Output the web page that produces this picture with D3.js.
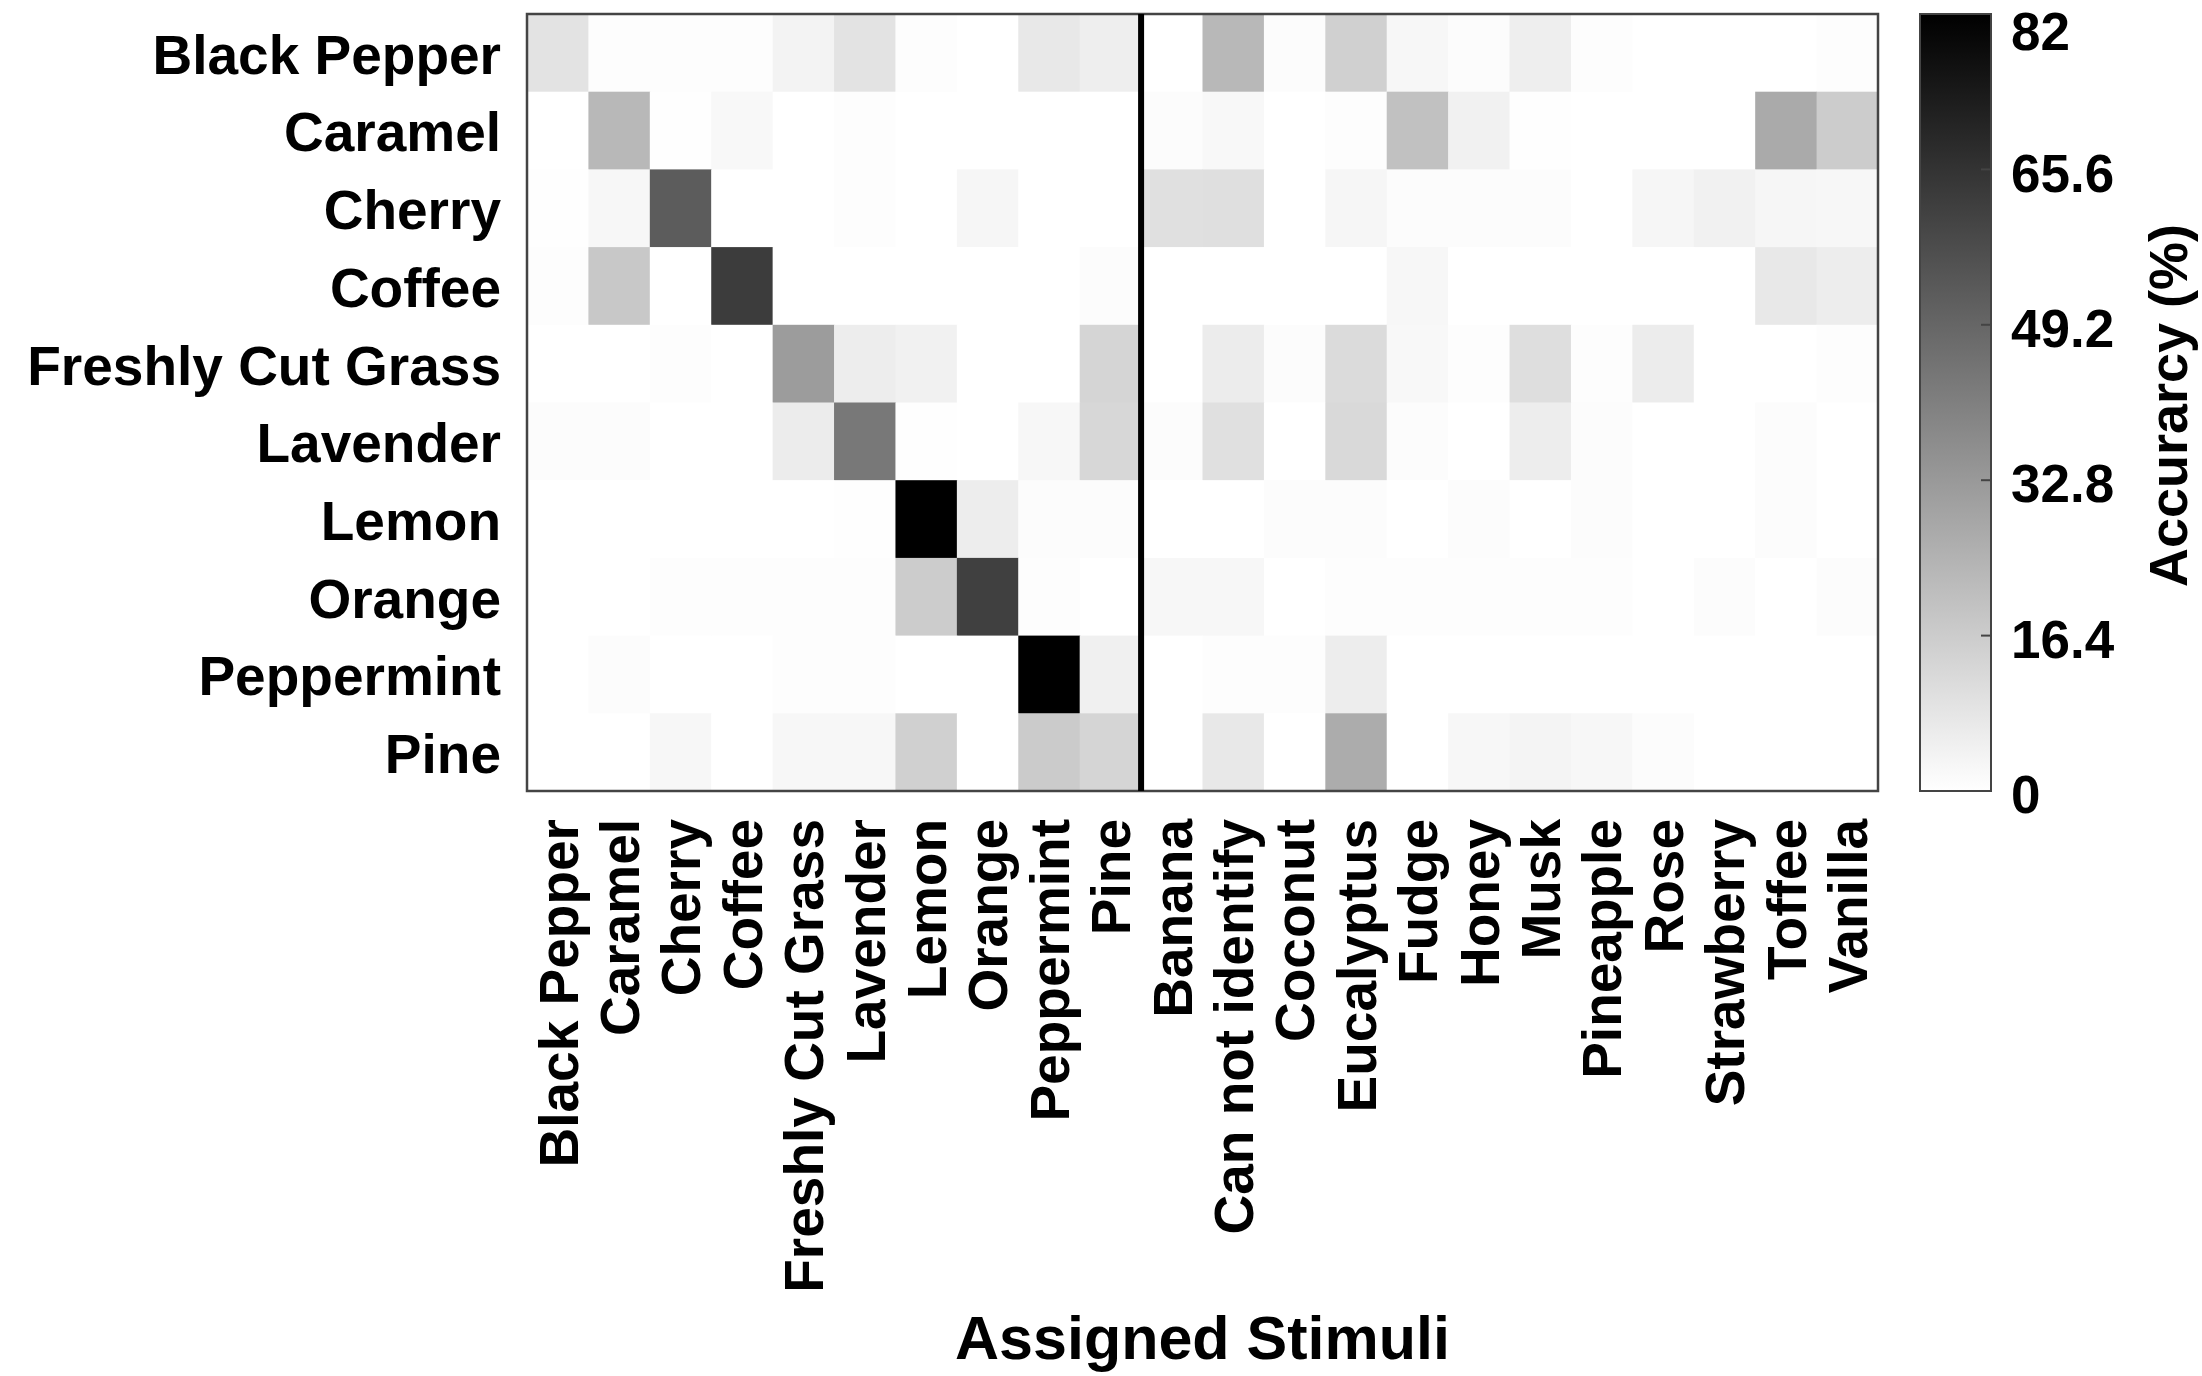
<!DOCTYPE html>
<html>
<head>
<meta charset="utf-8">
<script src="https://cdn.jsdelivr.net/npm/d3@7"></script>
<style>
  body { margin: 0; background: #fff; }
  text { font-family: "Liberation Sans", Arial, sans-serif; fill: #000; }
</style>
</head>
<body>
<div id="myChart"></div>
<script>
// presented stimuli (rows) and assigned stimuli (columns)
var rowLabels = ["Black Pepper", "Caramel", "Cherry", "Coffee", "Freshly Cut Grass",
  "Lavender", "Lemon", "Orange", "Peppermint", "Pine"];
var colLabels = ["Black Pepper", "Caramel", "Cherry", "Coffee", "Freshly Cut Grass",
  "Lavender", "Lemon", "Orange", "Peppermint", "Pine",
  "Banana", "Can not identify", "Coconut", "Eucalyptus", "Fudge", "Honey", "Musk",
  "Pineapple", "Rose", "Strawberry", "Toffee", "Vanilla"];

// accuracy (%) per row
var blackPepper = [9, 0.5, 0.5, 0.6, 4, 9, 0.6, 0, 7.4, 5.5, 0, 22.8, 1, 15, 2.6, 1, 5.5, 0.6, 0, 0, 0, 0.6];
var caramel     = [0, 22.8, 0.4, 2.3, 0, 0.5, 0, 0, 0, 0, 1, 2.3, 0, 0.8, 19.8, 4.5, 0.4, 0, 0, 0, 27.3, 16.4];
var cherry      = [0.3, 2.6, 52.4, 0, 0, 0.5, 0, 2.9, 0, 0, 10, 10.3, 0, 2.9, 1, 1, 1, 0, 2.9, 4.5, 2.9, 2.6];
var coffee      = [0.8, 17.7, 0, 62.7, 0, 0, 0, 0, 0, 1, 0, 0, 0, 0, 2.6, 0, 0, 0, 0, 0, 7.4, 5.8];
var grass       = [0, 0, 0.6, 0, 31.8, 5.8, 4.5, 0, 0, 13.5, 0, 6, 1, 11.6, 2.3, 0.8, 10.6, 0.8, 6, 0, 0, 0.6];
var lavender    = [1, 1, 0, 0, 6.1, 43.4, 0.4, 0, 2.6, 12.9, 1, 10, 0, 12.2, 1, 0, 5.8, 1, 0, 0, 1, 0];
var lemon       = [0, 0, 0, 0, 0, 0.4, 82, 5.8, 1, 1, 0, 0, 1, 1, 0, 1, 0, 1, 0, 0, 1, 0];
var orange      = [0, 0, 0.5, 0.5, 0.5, 0.5, 16.4, 61.4, 0.5, 0, 2.6, 2.6, 0, 0.8, 0.8, 0.8, 0.8, 0.8, 0, 1, 0, 1];
var peppermint  = [0, 1, 0, 0, 0.5, 0.5, 0, 0, 82, 4.8, 0, 0.8, 0.8, 5.8, 0, 0, 0, 0, 0, 0, 0, 0];
var pine        = [0, 0, 2.6, 0, 2.6, 2.6, 15, 0, 16.7, 13.5, 0, 7.4, 0, 26.7, 0, 2.6, 3.5, 2.6, 1, 0, 0, 0];

var rowValues = [blackPepper, caramel, cherry, coffee, grass, lavender, lemon, orange, peppermint, pine];

// colour bar
var colorMax = 82;
var colorTicks = [0, 16.4, 32.8, 49.2, 65.6, 82];
var colorTickLabels = ["0", "16.4", "32.8", "49.2", "65.6", "82"];

var xTitle = "Assigned Stimuli";
var cbarTitle = "Accurarcy (%)";

// flatten to cells
var cells = [];
rowValues.forEach(function (vals, i) {
  vals.forEach(function (v, j) {
    cells.push({ row: rowLabels[i], col: colLabels[j], value: v });
  });
});

var W = 2202, H = 1376;
var margin = { top: 14, left: 527, right: 324, bottom: 585 },
    width = W - margin.left - margin.right,
    height = H - margin.top - margin.bottom;

var svg = d3.select("#myChart")
  .append("svg")
    .attr("width", W)
    .attr("height", H);

var g = svg.append("g")
  .attr("transform", "translate(" + margin.left + "," + margin.top + ")");

var x = d3.scaleBand().domain(colLabels).range([0, width]);
var y = d3.scaleBand().domain(rowLabels).range([0, height]);
var color = d3.scaleLinear().domain([0, colorMax]).range(["#ffffff", "#000000"]);

// cells
g.append("g")
  .selectAll("rect")
  .data(cells)
  .enter()
  .append("rect")
    .attr("x", function (d) { return x(d.col); })
    .attr("y", function (d) { return y(d.row); })
    .attr("width", x.bandwidth() + 0.5)
    .attr("height", y.bandwidth() + 0.5)
    .attr("fill", function (d) { return color(d.value); });

// frame
g.append("rect")
  .attr("width", width)
  .attr("height", height)
  .attr("fill", "none")
  .attr("stroke", "#444")
  .attr("stroke-width", 2.5);

// divider between presented and extra stimuli
var divX = x(colLabels[10]);
g.append("line")
  .attr("x1", divX).attr("x2", divX)
  .attr("y1", 0).attr("y2", height)
  .attr("stroke", "#000")
  .attr("stroke-width", 6);

// Y axis labels
g.append("g")
  .selectAll("text")
  .data(rowLabels)
  .enter()
  .append("text")
    .attr("x", -26)
    .attr("y", function (d) { return y(d) + y.bandwidth() / 2; })
    .attr("dy", "0.38em")
    .attr("text-anchor", "end")
    .attr("font-size", 55)
    .attr("font-weight", "bold")
    .text(function (d) { return d; });

// X axis labels
g.append("g")
  .selectAll("text")
  .data(colLabels)
  .enter()
  .append("text")
    .attr("transform", function (d) {
      return "translate(" + (x(d) + x.bandwidth() / 2) + "," + (height + 28) + ") rotate(-90)";
    })
    .attr("dy", "0.36em")
    .attr("text-anchor", "end")
    .attr("font-size", 55)
    .attr("font-weight", "bold")
    .text(function (d) { return d; });

// X title
svg.append("text")
  .attr("x", margin.left + width / 2)
  .attr("y", 1359)
  .attr("text-anchor", "middle")
  .attr("font-size", 61)
  .attr("font-weight", "bold")
  .text(xTitle);

// colour bar
var cbX = 1920, cbW = 71;
var defs = svg.append("defs");
var grad = defs.append("linearGradient")
  .attr("id", "cbar")
  .attr("x1", 0).attr("y1", 1).attr("x2", 0).attr("y2", 0);
grad.append("stop").attr("offset", "0%").attr("stop-color", color(0));
grad.append("stop").attr("offset", "100%").attr("stop-color", color(colorMax));

var cy = d3.scaleLinear().domain([0, colorMax]).range([margin.top + height, margin.top]);

svg.append("rect")
  .attr("x", cbX)
  .attr("y", margin.top)
  .attr("width", cbW)
  .attr("height", height)
  .attr("fill", "url(#cbar)")
  .attr("stroke", "#444")
  .attr("stroke-width", 2);

var cb = svg.append("g");
cb.selectAll("line")
  .data(colorTicks)
  .enter()
  .append("line")
    .attr("x1", cbX + cbW - 10).attr("x2", cbX + cbW)
    .attr("y1", function (d) { return cy(d); })
    .attr("y2", function (d) { return cy(d); })
    .attr("stroke", "#444")
    .attr("stroke-width", 2);

cb.selectAll("text")
  .data(colorTicks)
  .enter()
  .append("text")
    .attr("x", cbX + cbW + 20)
    .attr("y", function (d) { return Math.max(cy(d), margin.top + 14); })
    .attr("dy", "0.42em")
    .attr("font-size", 53)
    .attr("font-weight", "bold")
    .text(function (d, i) { return colorTickLabels[i]; });

svg.append("text")
  .attr("transform", "translate(2168," + (margin.top + height / 2 + 3) + ") rotate(-90)")
  .attr("dy", "0.36em")
  .attr("text-anchor", "middle")
  .attr("font-size", 54)
  .attr("font-weight", "bold")
  .text(cbarTitle);
</script>
</body>
</html>
